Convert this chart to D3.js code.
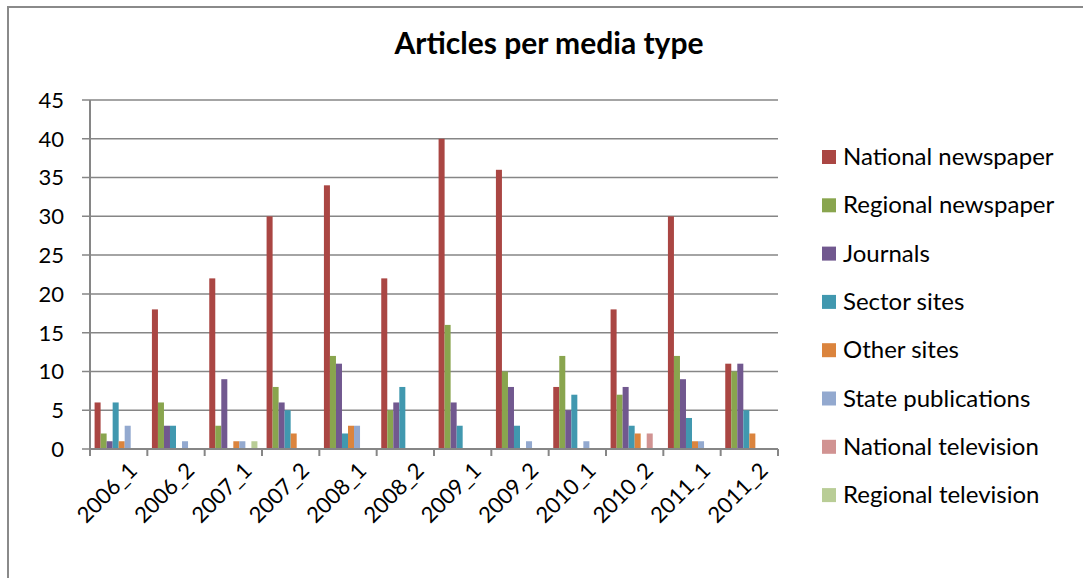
<!DOCTYPE html>
<html>
<head>
<meta charset="utf-8">
<script src="https://cdn.jsdelivr.net/npm/d3@7"></script>
<style>
  body { margin: 0; background: #fff; }
  #chart text { font-family: Lato, "Open Sans", sans-serif; fill: #000; }
</style>
</head>
<body>
<div id="chart"></div>
<script>
// categories (half years)
let periods = ['2006_1','2006_2','2007_1','2007_2','2008_1','2008_2','2009_1','2009_2','2010_1','2010_2','2011_1','2011_2']

let mediaTypes = ['National newspaper','Regional newspaper','Journals','Sector sites','Other sites','State publications','National television','Regional television']

let nationalNewspaper = [6,18,22,30,34,22,40,36,8,18,30,11]
let regionalNewspaper = [2,6,3,8,12,5,16,10,12,7,12,10]
let journals          = [1,3,9,6,11,6,6,8,5,8,9,11]
let sectorSites       = [6,3,0,5,2,8,3,3,7,3,4,5]
let otherSites        = [1,0,1,2,3,0,0,0,0,2,1,2]
let statePublications = [3,1,1,0,3,0,0,1,1,0,1,0]
let nationalTV        = [0,0,0,0,0,0,0,0,0,2,0,0]
let regionalTV        = [0,0,1,0,0,0,0,0,0,0,0,0]

let yTicks = [0,5,10,15,20,25,30,35,40,45]

let seriesValues = [nationalNewspaper, regionalNewspaper, journals, sectorSites, otherSites, statePublications, nationalTV, regionalTV]

let colors = d3.scaleOrdinal()
    .domain(mediaTypes)
    .range(['#AA4643','#89A54E','#71588F','#4198AF','#DB843D','#93A9CF','#D19392','#B9CD96'])

let width = 1083,
    height = 578

let svg = d3.select('#chart').append('svg')
    .attr('width', width)
    .attr('height', height)

// outer chart border (runs off the right and bottom edge)
svg.append('rect')
    .attr('x', 8)
    .attr('y', 7)
    .attr('width', 1100)
    .attr('height', 600)
    .attr('fill', 'none')
    .attr('stroke', '#8a8a8a')
    .attr('stroke-width', 2)

let plotLeft = 90, plotRight = 778, plotTop = 100, plotBottom = 449

let x0 = d3.scaleBand()
    .domain(periods)
    .range([plotLeft, plotRight])
    .paddingInner(0.16)
    .paddingOuter(0.08)

let x1 = d3.scaleBand()
    .domain(mediaTypes)
    .range([0, x0.bandwidth()])

let y = d3.scaleLinear()
    .domain([0, 45])
    .range([plotBottom, plotTop])

// gridlines
svg.append('g')
    .selectAll('line')
    .data(yTicks)
    .enter()
    .append('line')
    .attr('x1', plotLeft - 8)
    .attr('x2', plotRight)
    .attr('y1', d => y(d))
    .attr('y2', d => y(d))
    .attr('stroke', '#868686')
    .attr('stroke-width', 1.5)

svg.append('g')
    .selectAll('text')
    .data(yTicks)
    .enter()
    .append('text')
    .attr('x', 64)
    .attr('y', d => y(d))
    .attr('dy', '0.36em')
    .attr('text-anchor', 'end')
    .attr('font-size', 22)
    .text(d => d)

// bars
let groups = svg.append('g')
    .selectAll('g')
    .data(periods)
    .enter()
    .append('g')
    .attr('transform', d => 'translate(' + x0(d) + ',0)')

groups.selectAll('rect')
    .data(function(p, i){
        return mediaTypes.map(function(m, j){ return {key: m, value: seriesValues[j][i]} })
    })
    .enter()
    .append('rect')
    .filter(d => d.value > 0)
    .attr('x', d => x1(d.key))
    .attr('y', d => y(d.value))
    .attr('width', x1.bandwidth())
    .attr('height', d => y(0) - y(d.value))
    .attr('fill', d => colors(d.key))

// category axis
svg.append('line')
    .attr('x1', plotLeft)
    .attr('x2', plotRight)
    .attr('y1', plotBottom)
    .attr('y2', plotBottom)
    .attr('stroke', '#868686')
    .attr('stroke-width', 2)

svg.append('line')
    .attr('x1', plotLeft)
    .attr('x2', plotLeft)
    .attr('y1', plotTop)
    .attr('y2', plotBottom)
    .attr('stroke', '#868686')
    .attr('stroke-width', 2)

let boundaries = d3.range(periods.length + 1).map(i => plotLeft + i * x0.step())

svg.append('g')
    .selectAll('line')
    .data(boundaries)
    .enter()
    .append('line')
    .attr('x1', d => d)
    .attr('x2', d => d)
    .attr('y1', plotBottom)
    .attr('y2', plotBottom + 7)
    .attr('stroke', '#868686')
    .attr('stroke-width', 2)

svg.append('g')
    .selectAll('text')
    .data(periods)
    .enter()
    .append('text')
    .attr('transform', d => 'translate(' + (x0(d) + x0.bandwidth() / 2 + 9) + ',' + (plotBottom + 12) + ') rotate(-45)')
    .attr('text-anchor', 'end')
    .attr('dy', '0.7em')
    .attr('font-size', 22)
    .text(d => d)

// title
svg.append('text')
    .attr('x', 549)
    .attr('y', 54)
    .attr('text-anchor', 'middle')
    .attr('font-size', 30)
    .attr('font-weight', 'bold')
    .text('Articles per media type')

// legend
let legend = svg.append('g')
    .attr('transform', 'translate(822,150)')

legend.selectAll('rect')
    .data(mediaTypes)
    .enter()
    .append('rect')
    .attr('x', 0)
    .attr('y', (d, i) => i * 48.3)
    .attr('width', 14)
    .attr('height', 14)
    .attr('fill', d => colors(d))

legend.selectAll('text')
    .data(mediaTypes)
    .enter()
    .append('text')
    .attr('x', 21)
    .attr('y', (d, i) => i * 48.3 + 15)
    .attr('font-size', 24)
    .text(d => d)
</script>
</body>
</html>
